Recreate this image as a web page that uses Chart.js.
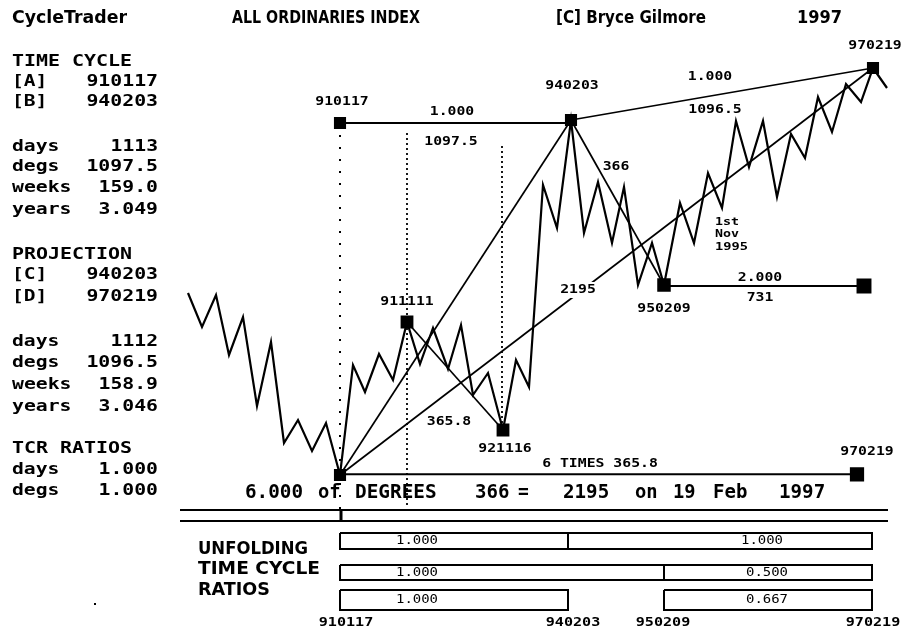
<!DOCTYPE html>
<html>
<head>
<meta charset="utf-8">
<script src="https://cdn.jsdelivr.net/npm/chart.js@4"></script>
<style>
  body { margin: 0; background: #fff; }
  canvas { display: block; }
</style>
</head>
<body>
<canvas id="cycleChart" width="909" height="632"></canvas>
<script>
// weekly bar number and index level of each swing in the All Ords line
const barIdx = [0, 7, 14, 20.5, 27.5, 34.5, 41.5, 48, 55, 62, 69, 76, 82.5, 88.5, 95.5, 102.5, 109.5, 116, 122.5, 130, 136.5, 142.5, 150, 157.5, 164, 170.5, 177.5, 184.5, 191.5, 198, 205, 212, 218, 225, 232, 238, 246, 253, 260, 267, 274, 280.5, 287.5, 294.5, 301.5, 308.5, 315, 322, 329, 336.5, 342.5, 349.5];
const closeLevel = [1741, 1639, 1735, 1555, 1669, 1402, 1594, 1291, 1360, 1267, 1351, 1195, 1525, 1444, 1558, 1480, 1654, 1528, 1636, 1513, 1645, 1435, 1501, 1330, 1540, 1459, 2065, 1936, 2260, 1921, 2074, 1891, 2059, 1765, 1891, 1765, 2011, 1891, 2101, 1996, 2257, 2119, 2257, 2029, 2218, 2146, 2329, 2224, 2368, 2314, 2416, 2356];

// pivots (date, bar, level)
const pivotDates = ['910117', '911111', '921116', '940203', '950209', '970219'];
const pivotBars = [76, 109.5, 157.5, 191.5, 238, 342.5];
const pivotLevels = [1195, 1654, 1330, 2260, 1765, 2416];

// time cycle projection markers
const timeLineLevels = [2251, 1762, 1197];
const timeLineFrom = [76, 238, 76];
const timeLineTo = [191.5, 338, 334.5];

// left panel numbers
const cycleAB = ['910117', '940203'];
const cycleStats = ['1113', '1097.5', '159.0', '3.049'];
const projCD = ['940203', '970219'];
const projStats = ['1112', '1096.5', '158.9', '3.046'];
const tcrRatios = ['1.000', '1.000'];
const statNames = ['days', 'degs', 'weeks', 'years'];

// unfolding time cycle ratios
const ratioDates = ['910117', '940203', '950209', '970219'];
const ratioBars = [76, 190, 238, 342];
const ratioRow1 = ['1.000', '1.000'];
const ratioRow2 = ['1.000', '0.500'];
const ratioRow3 = ['1.000', '0.667'];

const MONO = '"DejaVu Sans Mono"';
const SANS = '"DejaVu Sans"';

function seg(x0, y0, x1, y1) {
  return [{ x: x0, y: y0 }, { x: x1, y: y1 }];
}

function lineSet(data, width, dash) {
  return {
    type: 'line',
    data: data,
    borderColor: '#000',
    borderWidth: width,
    borderDash: dash || [],
    pointRadius: 0,
    tension: 0,
    fill: false,
  };
}

function boxPath(x0, x1, top, bottom) {
  return [
    { x: x0, y: top }, { x: x1, y: top }, { x: x1, y: bottom },
    { x: x0, y: bottom }, { x: x0, y: top },
  ];
}

const P = {};
pivotDates.forEach((d, i) => { P[d] = { x: pivotBars[i], y: pivotLevels[i] }; });
const A = P['910117'], B = P['940203'], C = P['950209'], D = P['970219'];

const datasets = [];
datasets.push(lineSet(barIdx.map((b, i) => ({ x: b, y: closeLevel[i] })), 2.2));

// swing lines
datasets.push(lineSet(seg(A.x, A.y, B.x, B.y), 1.7));
datasets.push(lineSet(seg(A.x, A.y, D.x, D.y), 1.7));
datasets.push(lineSet(seg(P['911111'].x, P['911111'].y, P['921116'].x, P['921116'].y), 1.7));
datasets.push(lineSet(seg(B.x, B.y, C.x, C.y), 1.7));
datasets.push(lineSet(seg(B.x, B.y, D.x, D.y), 1.7));

timeLineLevels.forEach((lv, i) => {
  datasets.push(lineSet(seg(timeLineFrom[i], lv, timeLineTo[i], lv), 2));
});

// dotted cycle verticals
datasets.push(lineSet(seg(A.x, 2251, A.x, 1090), 2, [2, 10]));
datasets.push(lineSet(seg(P['911111'].x, 2221, P['911111'].x, 1105), 1.8, [2, 3]));
datasets.push(lineSet(seg(P['921116'].x - 0.5, 2182, P['921116'].x - 0.5, 1345), 1.8, [2, 3]));

// divider band under the chart
datasets.push(lineSet(seg(-4, 1090, 350, 1090), 2));
datasets.push(lineSet(seg(-4, 1057, 350, 1057), 2));
datasets.push(lineSet(seg(A.x + 0.5, 1090, A.x + 0.5, 1057), 3));

// ratio boxes
const rx = ratioBars;
datasets.push(lineSet(boxPath(rx[0], rx[3], 1021, 973), 2));
datasets.push(lineSet(seg(rx[1], 1021, rx[1], 973), 2));
datasets.push(lineSet(boxPath(rx[0], rx[3], 925, 880), 2));
datasets.push(lineSet(seg(rx[2], 925, rx[2], 880), 2));
datasets.push(lineSet(boxPath(rx[0], rx[1], 850, 790), 2));
datasets.push(lineSet(boxPath(rx[2], rx[3], 850, 790), 2));

// pivot squares
const sqX = [A.x, B.x, D.x, P['911111'].x, P['921116'].x, C.x, timeLineTo[1], A.x, timeLineTo[2]];
const sqY = [timeLineLevels[0], B.y, D.y, P['911111'].y, P['921116'].y, C.y, timeLineLevels[1], A.y, timeLineLevels[2]];
const sqR = [7.5, 7.5, 7.5, 8, 8, 8.5, 9.5, 7.5, 9];
datasets.push({
  type: 'scatter',
  data: sqX.map((x, i) => ({ x: x, y: sqY[i] })),
  pointStyle: 'rect',
  pointRadius: sqR,
  backgroundColor: '#000',
  borderColor: '#000',
  borderWidth: 1.5,
  showLine: false,
});

function put(ctx, s, x, y, font, w, align) {
  ctx.save();
  ctx.font = font;
  const k = w / ctx.measureText(s).width;
  ctx.translate(x, y);
  ctx.scale(k, 1);
  ctx.textAlign = align || 'center';
  ctx.textBaseline = 'middle';
  ctx.fillStyle = '#000';
  ctx.fillText(s, 0, 0);
  ctx.restore();
}

const textPlugin = {
  id: 'cycleText',
  beforeDraw(chart) {
    const ctx = chart.ctx;
    ctx.save();
    ctx.fillStyle = '#fff';
    ctx.fillRect(0, 0, chart.width, chart.height);
    ctx.restore();
  },
  afterDatasetsDraw(chart) {
    const ctx = chart.ctx;
    const xs = chart.scales.x, ys = chart.scales.y;
    const X = (v) => xs.getPixelForValue(v);
    const Y = (v) => ys.getPixelForValue(v);
    const lab = 'bold 12px ' + MONO;
    const L = (s, x, y) => put(ctx, s, X(x), Y(y), lab, 8.9 * s.length, 'center');

    // header
    const head = 'bold 18px ' + SANS;
    put(ctx, 'CycleTrader', 12, 18, head, 115, 'left');
    put(ctx, 'ALL ORDINARIES INDEX', 232, 18, head, 188, 'left');
    put(ctx, '[C] Bryce Gilmore', 556, 18, head, 150, 'left');
    put(ctx, '1997', 797, 18, head, 45, 'left');

    // left panel
    const pf = 'bold 16px ' + MONO;
    const cw = 12.1;
    const left = (s, y) => put(ctx, s, 12, y, pf, cw * s.length - 1, 'left');
    const right = (s, y) => put(ctx, s, 158, y, pf, cw * s.length - 1, 'right');
    left('TIME CYCLE', 62);
    left('[A]', 82); right(cycleAB[0], 82);
    left('[B]', 102); right(cycleAB[1], 102);
    const ys1 = [147, 167, 188, 210];
    statNames.forEach((n, i) => { left(n, ys1[i]); right(cycleStats[i], ys1[i]); });
    left('PROJECTION', 255);
    left('[C]', 275); right(projCD[0], 275);
    left('[D]', 297); right(projCD[1], 297);
    const ys2 = [342, 363, 385, 407];
    statNames.forEach((n, i) => { left(n, ys2[i]); right(projStats[i], ys2[i]); });
    left('TCR RATIOS', 449);
    left('days', 470); right(tcrRatios[0], 470);
    left('degs', 491); right(tcrRatios[1], 491);
    ctx.fillStyle = '#000';
    ctx.fillRect(94, 603, 2, 2);

    // chart labels
    L(pivotDates[0], 77, 2314);
    L('1.000', 132, 2284);
    L('1097.5', 131.5, 2194);
    L(pivotDates[3], 192, 2362);
    L(pivotDates[5], 343.5, 2482);
    L('1.000', 261, 2389);
    L('1096.5', 263.5, 2290);
    L('366', 214, 2119);
    const small = 'bold 11px ' + MONO;
    put(ctx, '1st', X(263.5), Y(1954), small, 24, 'left');
    put(ctx, 'Nov', X(263.5), Y(1918), small, 24, 'left');
    put(ctx, '1995', X(263.5), Y(1879), small, 33, 'left');
    ctx.fillStyle = '#fff';
    ctx.fillRect(X(195) - 21, Y(1750) - 8, 43, 16);
    L('2195', 195, 1750);
    L(pivotDates[1], 109.5, 1714);
    L('365.8', 130.5, 1354);
    L(pivotDates[2], 158.5, 1273);
    L(pivotDates[4], 238, 1693);
    L('2.000', 286, 1786);
    L('731', 286, 1726);
    L('6 TIMES 365.8', 206, 1228);
    L(pivotDates[5], 339.5, 1264);

    // projection sentence
    const big = 'bold 19px ' + MONO;
    const sw = 11.8;
    [['6.000', 245], ['of', 318], ['DEGREES', 355], ['366', 475], ['=', 518],
     ['2195', 563], ['on', 635], ['19', 673], ['Feb', 713], ['1997', 779]].forEach(([s, x]) => {
      put(ctx, s, x, 493, big, sw * s.length - 1, 'left');
    });

    // unfolding ratios
    const uf = 'bold 18px ' + SANS;
    put(ctx, 'UNFOLDING', 198, 549, uf, 110, 'left');
    put(ctx, 'TIME CYCLE', 198, 569, uf, 122, 'left');
    put(ctx, 'RATIOS', 198, 590, uf, 72, 'left');
    const bf = '12px ' + MONO;
    const bw = 8.4;
    const rows = [[ratioRow1, 541], [ratioRow2, 573], [ratioRow3, 600]];
    rows.forEach(([r, y]) => {
      put(ctx, r[0], 417, y, bf, bw * r[0].length, 'center');
      put(ctx, r[1], r === ratioRow1 ? 762 : 767, y, bf, bw * r[1].length, 'center');
    });
    const df = 'bold 12px ' + MONO;
    const dx = [346, 573, 663, 873];
    ratioDates.forEach((d, i) => put(ctx, d, dx[i], 623, df, 9.1 * d.length, 'center'));
  },
};

new Chart(document.getElementById('cycleChart'), {
  type: 'line',
  data: { datasets: datasets },
  options: {
    responsive: false,
    animation: false,
    devicePixelRatio: 1,
    layout: { autoPadding: false, padding: { left: 180, right: 9, top: 0, bottom: 0 } },
    scales: {
      x: { type: 'linear', display: false, min: -4, max: 356 },
      y: { display: false, min: 724, max: 2620 },
    },
    plugins: {
      legend: { display: false },
      tooltip: { enabled: false },
    },
    elements: { line: { borderJoinStyle: 'miter', borderCapStyle: 'butt' } },
  },
  plugins: [textPlugin],
});
</script>
</body>
</html>
